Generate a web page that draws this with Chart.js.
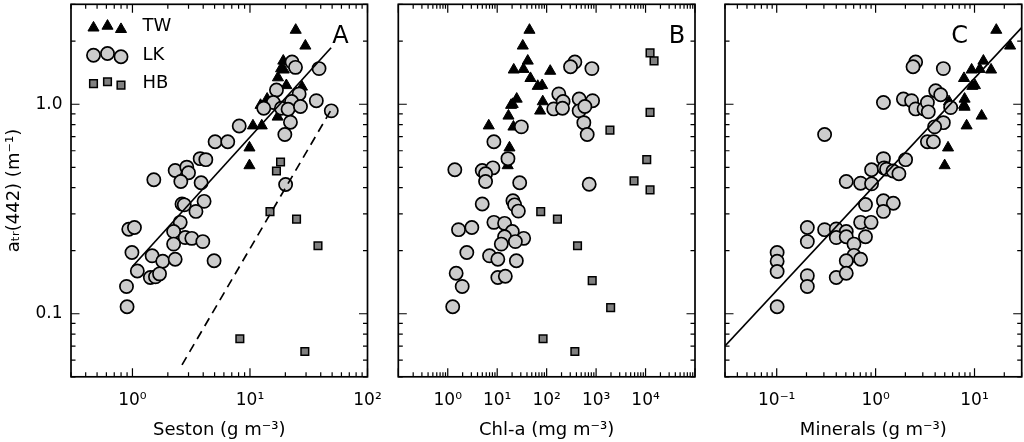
<!DOCTYPE html>
<html><head><meta charset="utf-8">
<script src="https://cdn.jsdelivr.net/npm/chart.js@4.4.0/dist/chart.umd.min.js"></script>
<style>
html,body{margin:0;padding:0;background:#fff;width:1024px;height:442px;overflow:hidden}
canvas{position:absolute;left:0;top:0}
</style></head><body>
<canvas id="cA" width="1024" height="442"></canvas>
<canvas id="cB" width="1024" height="442"></canvas>
<canvas id="cC" width="1024" height="442"></canvas>
<script>
// ---------------- DATA ----------------
// Panel A: Seston (g m^-3)
const twSestonX = [24.5, 29.6, 19.2, 18.4, 19.4, 17.3, 20.4, 27.7, 14.0, 12.3, 18.2, 17.2, 10.6, 12.6, 9.9, 9.9];
const twSestonY = [2.26, 1.90, 1.61, 1.48, 1.46, 1.34, 1.23, 1.21, 1.06, 0.99, 0.965, 0.87, 0.79, 0.79, 0.62, 0.51];
const lkSestonX = [22.8, 24.4, 38.7, 16.8, 26.2, 36.7, 49.2, 15.8, 13.1, 18.5, 22.6, 21.1, 26.9, 22.1, 8.1, 19.8,
  5.05, 6.47, 3.77, 4.21, 2.31, 2.9, 3.0, 1.52, 2.58, 3.84, 20.1, 2.64, 2.76, 4.07, 3.47, 0.93, 1.04, 2.55,
  2.24, 2.81, 3.2, 3.97, 2.24, 0.99, 1.47, 1.81, 2.31, 4.95, 1.1, 1.42, 1.57, 1.70, 0.89, 0.90];
const lkSestonY = [1.59, 1.50, 1.48, 1.17, 1.12, 1.04, 0.93, 1.02, 0.957, 0.957, 1.03, 0.946, 0.975, 0.82, 0.787, 0.717,
  0.662, 0.662, 0.55, 0.544, 0.483, 0.501, 0.471, 0.436, 0.428, 0.422, 0.414, 0.334, 0.331, 0.344, 0.308, 0.253, 0.258, 0.273,
  0.247, 0.231, 0.229, 0.221, 0.215, 0.196, 0.189, 0.178, 0.182, 0.179, 0.16, 0.149, 0.15, 0.155, 0.135, 0.108];
const hbSestonX = [18.2, 16.8, 14.8, 24.9, 37.9, 8.2, 29.3];
const hbSestonY = [0.53, 0.48, 0.307, 0.283, 0.211, 0.076, 0.066];
const fitLkSestonX = [1.0, 49];
const fitLkSestonY = [0.168, 1.86];
const fitHbSestonX = [2.64, 49];
const fitHbSestonY = [0.057, 0.94];

// Panel B: Chl-a (mg m^-3)
const twChlX = [44.9, 32.9, 41.5, 21.6, 34, 118, 47, 66, 81, 24.8, 19.1, 20.6, 83.4, 73.8, 16.9, 6.75, 21.3, 17.7, 16.3];
const twChlY = [2.26, 1.90, 1.61, 1.46, 1.47, 1.44, 1.33, 1.22, 1.23, 1.06, 0.99, 1.0, 1.03, 0.93, 0.88, 0.79, 0.78, 0.62, 0.51];
const lkChlX = [372, 304, 822, 176, 215, 454, 849, 139, 209, 454, 593, 565, 661, 30.8, 8.57, 16.5, 1.39, 4.98, 8.18,
  5.82, 5.82, 28.5, 725, 4.98, 20.8, 22.5, 26.8, 1.65, 3.07, 8.57, 14.1, 20.2, 14.1, 34.3, 23.3, 12.1, 2.43, 7.0,
  10.3, 24.4, 1.48, 10.3, 14.6, 1.96, 1.26];
const lkChlY = [1.59, 1.51, 1.48, 1.12, 1.03, 1.06, 1.04, 0.95, 0.957, 0.93, 0.975, 0.817, 0.717, 0.78, 0.662, 0.55, 0.487, 0.483, 0.497,
  0.466, 0.428, 0.422, 0.415, 0.334, 0.346, 0.331, 0.309, 0.252, 0.258, 0.273, 0.27, 0.247, 0.233, 0.229, 0.221, 0.215, 0.196, 0.189,
  0.182, 0.179, 0.156, 0.149, 0.151, 0.135, 0.108];
const hbChlX = [12330, 14860, 12330, 1905, 10570, 5850, 12330, 75.9, 165, 421, 834, 1969, 84.6, 372];
const hbChlY = [1.76, 1.61, 0.915, 0.752, 0.544, 0.431, 0.39, 0.307, 0.283, 0.211, 0.144, 0.107, 0.076, 0.066];

// Panel C: Minerals (g m^-3)
const twMinX = [16.6, 22.9, 12.3, 9.35, 11.3, 14.7, 7.83, 9.5, 10.1, 7.94, 7.83, 5.52, 7.94, 11.8, 8.32, 5.4, 4.99];
const twMinY = [2.26, 1.90, 1.61, 1.46, 1.47, 1.46, 1.33, 1.22, 1.23, 1.06, 0.99, 1.03, 0.97, 0.88, 0.79, 0.62, 0.51];
const lkMinX = [2.54, 2.39, 4.84, 4.05, 4.55, 1.2, 1.91, 2.31, 2.54, 3.09, 3.34, 3.41, 5.74, 4.84, 3.95, 0.305, 3.34, 3.84,
  1.2, 2.01, 0.91, 1.22, 1.29, 1.5, 1.72, 0.505, 0.705, 0.91, 1.2, 1.51, 0.79, 1.2, 0.705, 0.90, 0.204, 0.305, 0.40,
  0.505, 0.40, 0.505, 0.79, 0.204, 0.604, 0.101, 0.604, 0.505, 0.705, 0.101, 0.101, 0.204, 0.40, 0.505, 0.204, 0.101];
const lkMinY = [1.59, 1.51, 1.48, 1.16, 1.11, 1.02, 1.06, 1.04, 0.95, 0.95, 1.02, 0.92, 0.964, 0.817, 0.78, 0.717, 0.662, 0.662,
  0.55, 0.544, 0.487, 0.497, 0.49, 0.48, 0.466, 0.428, 0.42, 0.417, 0.346, 0.337, 0.332, 0.308, 0.273, 0.273, 0.258, 0.252, 0.254,
  0.247, 0.231, 0.233, 0.233, 0.221, 0.215, 0.196, 0.19, 0.179, 0.182, 0.178, 0.159, 0.152, 0.149, 0.156, 0.135, 0.108];
const fitMinX = [0.03, 30];
const fitMinY = [0.0702, 2.32];

// Axes / ticks / labels
const yRange = [0.05, 3];
const yTickVals = [0.1, 1];
const yTickLabels = ['0.1', '1.0'];
const xRangeA = [0.3, 100];
const xTickValsA = [1, 10, 100];
const xTickLabelsA = ['10\u2070', '10\u00b9', '10\u00b2'];
const xRangeB = [0.1, 100000];
const xTickValsB = [1, 10, 100, 1000, 10000];
const xTickLabelsB = ['10\u2070', '10\u00b9', '10\u00b2', '10\u00b3', '10\u2074'];
const xRangeC = [0.03, 30];
const xTickValsC = [0.1, 1, 10];
const xTickLabelsC = ['10\u207b\u00b9', '10\u2070', '10\u00b9'];
const legendLabels = ['TW', 'LK', 'HB'];
const yTitle = 'a\u209c\u1d63(442) (m\u207b\u00b9)';
const xTitles = ['Seston (g m\u207b\u00b3)', 'Chl-a (mg m\u207b\u00b3)', 'Minerals (g m\u207b\u00b3)'];
const panelLetters = ['A', 'B', 'C'];

// ---------------- STYLE / LAYOUT ----------------
const FONT = "'DejaVu Sans', 'Liberation Sans', sans-serif";
const W = 1024, H = 442;
const TOP = 4.3, BOTTOM = 376.8;
const MAJ = 8.5, MIN = 4.5;
const STYLE = {
  TW: {pointStyle: 'triangle', radius: 6.4, fill: '#000000', stroke: '#000000', bw: 1},
  LK: {pointStyle: 'circle', radius: 6.6, fill: '#cccccc', stroke: '#000000', bw: 1.7},
  HB: {pointStyle: 'rect', radius: 5.4, fill: '#808080', stroke: '#000000', bw: 1.5}
};

function pts(xs, ys) { return xs.map((x, i) => ({x: x, y: ys[i]})); }
function markers(label, xs, ys) {
  const s = STYLE[label];
  return {label: label, data: pts(xs, ys), pointStyle: s.pointStyle, pointRadius: s.radius,
    pointBackgroundColor: s.fill, backgroundColor: s.fill, pointBorderColor: s.stroke, borderColor: s.stroke,
    pointBorderWidth: s.bw, pointHoverRadius: s.radius, showLine: false};
}
function fitLine(xs, ys, dash) {
  return {label: 'fit', data: pts(xs, ys), showLine: true, borderColor: '#000', borderWidth: 1.7,
    borderDash: dash || [], pointRadius: 0, pointHoverRadius: 0, fill: false, tension: 0};
}

function drawMarker(ctx, s, x, y) {
  ctx.save();
  ctx.fillStyle = s.fill; ctx.strokeStyle = s.stroke; ctx.lineWidth = s.bw;
  ctx.beginPath();
  const r = s.radius;
  if (s.pointStyle === 'circle') {
    ctx.arc(x, y, r, 0, Math.PI * 2);
  } else if (s.pointStyle === 'triangle') {
    const h = r * Math.sin(Math.PI / 3 * 2);
    ctx.moveTo(x, y - r); ctx.lineTo(x + h, y + r / 2); ctx.lineTo(x - h, y + r / 2);
  } else {
    const a = Math.SQRT1_2 * r;
    ctx.rect(x - a, y - a, 2 * a, 2 * a);
  }
  ctx.closePath(); ctx.fill(); ctx.stroke();
  ctx.restore();
}

function logTicks(s) {
  const out = [];
  const lo = Math.floor(Math.log10(s.min)), hi = Math.ceil(Math.log10(s.max));
  for (let d = lo; d <= hi; d++) {
    for (let k = 1; k <= 9; k++) {
      const v = k * Math.pow(10, d);
      if (v >= s.min * 0.9999 && v <= s.max * 1.0001) out.push({v: v, major: k === 1});
    }
  }
  return out;
}

const framePlugin = {
  id: 'frame',
  afterDraw(chart) {
    const ctx = chart.ctx, a = chart.chartArea, x = chart.scales.x, y = chart.scales.y;
    ctx.save();
    ctx.strokeStyle = '#000'; ctx.lineWidth = 1.2;
    ctx.beginPath();
    for (const t of logTicks(x)) {
      const p = x.getPixelForValue(t.v), L = t.major ? MAJ : MIN;
      ctx.moveTo(p, a.bottom); ctx.lineTo(p, a.bottom - L);
      ctx.moveTo(p, a.top); ctx.lineTo(p, a.top + L);
    }
    for (const t of logTicks(y)) {
      const p = y.getPixelForValue(t.v), L = t.major ? MAJ : MIN;
      ctx.moveTo(a.left, p); ctx.lineTo(a.left + L, p);
      ctx.moveTo(a.right, p); ctx.lineTo(a.right - L, p);
    }
    ctx.stroke();
    ctx.lineWidth = 1.7;
    ctx.strokeRect(a.left, a.top, a.right - a.left, a.bottom - a.top);
    const lp = chart.options.plugins.frame;
    ctx.fillStyle = '#000';
    ctx.font = '24px ' + FONT;
    ctx.textAlign = 'center'; ctx.textBaseline = 'middle';
    ctx.fillText(lp.letter, a.right - lp.letterDx, a.top + 32);
    ctx.restore();
  }
};

const legendPlugin = {
  id: 'legendA',
  afterDraw(chart) {
    const ctx = chart.ctx, a = chart.chartArea;
    const rowsY = [22, 51, 79.3];
    const mx = [22.5, 36.5, 50];
    const dy = [0, -1.8, 1.5];
    legendLabels.forEach((name, r) => {
      const s = STYLE[name];
      mx.forEach((dx, j) => drawMarker(ctx, s, a.left + dx, a.top + rowsY[r] + dy[j] + (name === 'TW' ? 1.5 : 0)));
      ctx.save();
      ctx.fillStyle = '#000'; ctx.font = '18px ' + FONT;
      ctx.textAlign = 'left'; ctx.textBaseline = 'middle';
      ctx.fillText(name, a.left + 71.5, a.top + rowsY[r]);
      ctx.restore();
    });
  }
};

function makePanel(id, p) {
  const showY = p.showY;
  return new Chart(document.getElementById(id), {
    type: 'scatter',
    data: {datasets: p.datasets},
    options: {
      responsive: false, animation: false, devicePixelRatio: 1,
      events: [],
      layout: {autoPadding: false, padding: {left: showY ? 0 : p.left, right: W - p.right, top: TOP, bottom: 0}},
      plugins: {legend: {display: false}, tooltip: {enabled: false}, frame: {letter: p.letter, letterDx: p.letterDx}},
      scales: {
        x: {
          type: 'logarithmic', position: 'bottom', min: p.xRange[0], max: p.xRange[1],
          afterBuildTicks: s => { s.ticks = p.xTicks.map(v => ({value: v})); },
          afterFit: s => { s.height = H - BOTTOM; s.paddingLeft = 0; s.paddingRight = 0; s.paddingTop = 0; s.paddingBottom = 0; },
          grid: {display: false, drawTicks: false}, border: {display: false},
          ticks: {autoSkip: false, maxRotation: 0, minRotation: 0, color: '#000', padding: 14,
            font: {family: FONT, size: 17}, callback: (v, i) => p.xLabels[i]},
          title: {display: true, text: p.xTitle, color: '#000', font: {family: FONT, size: 18},
            padding: {top: 0, bottom: 1}}
        },
        y: {
          type: 'logarithmic', position: 'left', min: yRange[0], max: yRange[1], display: showY,
          afterBuildTicks: s => { s.ticks = yTickVals.map(v => ({value: v})); },
          afterFit: s => { if (showY) s.width = p.left; s.paddingTop = 0; s.paddingBottom = 0; s.paddingLeft = 0; s.paddingRight = 0; },
          grid: {display: false, drawTicks: false}, border: {display: false},
          ticks: {color: '#000', padding: 8.5, font: {family: FONT, size: 17}, callback: (v, i) => yTickLabels[i]},
          title: {display: showY, text: yTitle, color: '#000', font: {family: FONT, size: 18},
            padding: {top: 4, bottom: 0}}
        }
      }
    },
    plugins: p.legend ? [framePlugin, legendPlugin] : [framePlugin]
  });
}

makePanel('cA', {
  left: 71, right: 367.5, xRange: xRangeA, xTicks: xTickValsA, xLabels: xTickLabelsA, xTitle: xTitles[0],
  showY: true, legend: true, letter: panelLetters[0], letterDx: 27,
  datasets: [
    fitLine(fitLkSestonX, fitLkSestonY),
    fitLine(fitHbSestonX, fitHbSestonY, [9, 6]),
    markers('HB', hbSestonX, hbSestonY),
    markers('LK', lkSestonX, lkSestonY),
    markers('TW', twSestonX, twSestonY)
  ]
});
makePanel('cB', {
  left: 398.3, right: 695, xRange: xRangeB, xTicks: xTickValsB, xLabels: xTickLabelsB, xTitle: xTitles[1],
  showY: false, legend: false, letter: panelLetters[1], letterDx: 18,
  datasets: [
    markers('HB', hbChlX, hbChlY),
    markers('LK', lkChlX, lkChlY),
    markers('TW', twChlX, twChlY)
  ]
});
makePanel('cC', {
  left: 725, right: 1021.7, xRange: xRangeC, xTicks: xTickValsC, xLabels: xTickLabelsC, xTitle: xTitles[2],
  showY: false, legend: false, letter: panelLetters[2], letterDx: 62,
  datasets: [
    fitLine(fitMinX, fitMinY),
    markers('LK', lkMinX, lkMinY),
    markers('TW', twMinX, twMinY)
  ]
});
</script>
</body></html>
